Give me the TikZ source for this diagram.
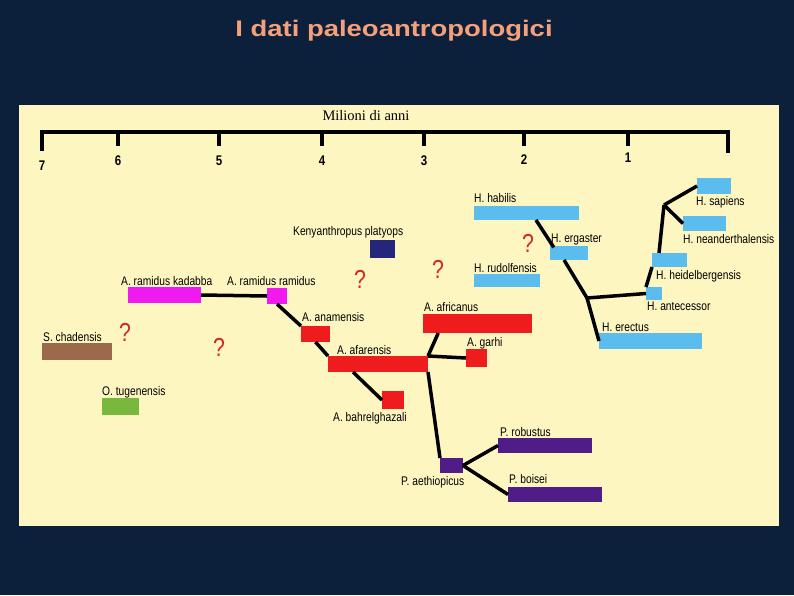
\documentclass[tikz,border=0pt]{standalone}
\usepackage{fontspec}
\setmainfont{Liberation Sans}
\newfontfamily\lblfont[FakeStretch=0.82]{Liberation Sans}
\newfontfamily\ttlfont[FakeStretch=1.22]{Liberation Sans}
\newfontfamily\axfont{Liberation Serif}
\usetikzlibrary{calc}

\definecolor{bgnavy}{HTML}{0C203C}
\definecolor{panel}{HTML}{FEF6C1}
\definecolor{salmon}{HTML}{F4A07A}
\definecolor{homo}{HTML}{5BBDEE}
\definecolor{austr}{HTML}{EE1C1C}
\definecolor{ardi}{HTML}{F019F0}
\definecolor{kenya}{HTML}{25257C}
\definecolor{paran}{HTML}{4F1C88}
\definecolor{sahel}{HTML}{9A6A4A}
\definecolor{orro}{HTML}{78B83C}
\definecolor{qred}{HTML}{D02828}

\begin{document}
\begin{tikzpicture}[x=1pt, y=-1pt, line cap=butt]
  \tikzstyle{bar} = [rectangle, anchor=north west, inner sep=0pt, outer sep=0pt]
  \tikzstyle{lbl} = [anchor=base west, inner sep=0pt, font=\lblfont\fontsize{12.5}{14}\selectfont]
  \tikzstyle{qm} = [inner sep=0pt, text=qred, font=\lblfont\fontsize{26}{28}\selectfont]
  \tikzstyle{axnum} = [inner sep=0pt, font=\lblfont\bfseries\fontsize{14}{16}\selectfont]
  \tikzstyle{line} = [draw, line width=3.5pt]
  \tikzstyle{axis} = [draw, line width=4pt]

  % background and panel
  \fill[bgnavy] (0,0) rectangle (794,595);
  \useasboundingbox (0,0) rectangle (794,595);
  \fill[panel] (19,105) rectangle (779,526);

  \node[anchor=base, inner sep=0pt, text=salmon, font=\ttlfont\bfseries\fontsize{22.5}{26}\selectfont] (ttl) at (394,36) {I dati paleoantropologici};
  \node[anchor=base, inner sep=0pt, font=\axfont\fontsize{14.5}{16}\selectfont] (unit) at (366,120) {Milioni di anni};

  % time axis
  \coordinate (t7) at (42,132);
  \coordinate (t0) at (728,132);
  \path[axis] ([xshift=-2pt]t7) -- ([xshift=2pt]t0);
  \path[axis] (t7) -- (42,151);
  \path[axis] (t0) -- (728,153);
  \foreach \x in {118,219,322,424,524,628}
    \path[axis] (\x,132) -- (\x,146);
  \node[axnum] (n7) at (42,166) {7};
  \node[axnum] (n6) at (118,161) {6};
  \node[axnum] (n5) at (219,161) {5};
  \node[axnum] (n4) at (322,161) {4};
  \node[axnum] (n3) at (424,161) {3};
  \node[axnum] (n2) at (524,160) {2};
  \node[axnum] (n1) at (628,158) {1};

  % species bars
  \node[bar, fill=homo, minimum width=34pt, minimum height=16pt] (sap) at (697,178) {};
  \node[bar, fill=homo, minimum width=43pt, minimum height=15pt] (nea) at (683,216) {};
  \node[bar, fill=homo, minimum width=35pt, minimum height=14pt] (hei) at (652,253) {};
  \node[bar, fill=homo, minimum width=16pt, minimum height=13pt] (ant) at (646,287) {};
  \node[bar, fill=homo, minimum width=103pt, minimum height=16pt] (ere) at (599,333) {};
  \node[bar, fill=homo, minimum width=38pt, minimum height=14pt] (erg) at (550,246) {};
  \node[bar, fill=homo, minimum width=105pt, minimum height=14pt] (hab) at (474,206) {};
  \node[bar, fill=homo, minimum width=66pt, minimum height=13pt] (rud) at (474,274) {};
  \node[bar, fill=kenya, minimum width=25pt, minimum height=18pt] (ken) at (370,240) {};
  \node[bar, fill=ardi, minimum width=73pt, minimum height=16pt] (kad) at (128,287) {};
  \node[bar, fill=ardi, minimum width=20pt, minimum height=16pt] (ram) at (267,288) {};
  \node[bar, fill=sahel, minimum width=70pt, minimum height=17pt] (cha) at (42,343) {};
  \node[bar, fill=orro, minimum width=37pt, minimum height=17pt] (tug) at (102,398) {};
  \node[bar, fill=austr, minimum width=29pt, minimum height=16pt] (ana) at (301,326) {};
  \node[bar, fill=austr, minimum width=100pt, minimum height=16pt] (afa) at (328,356) {};
  \node[bar, fill=austr, minimum width=109pt, minimum height=19pt] (afr) at (423,314) {};
  \node[bar, fill=austr, minimum width=21pt, minimum height=18pt] (gar) at (466,349) {};
  \node[bar, fill=austr, minimum width=22pt, minimum height=18pt] (bah) at (382,391) {};
  \node[bar, fill=paran, minimum width=23pt, minimum height=15pt] (aet) at (440,458) {};
  \node[bar, fill=paran, minimum width=94pt, minimum height=15pt] (rob) at (498,438) {};
  \node[bar, fill=paran, minimum width=94pt, minimum height=15pt] (boi) at (508,487) {};

  % names
  \node[lbl] (sapl) at (696,205) {H. sapiens};
  \node[lbl] (neal) at (683,243) {H. neanderthalensis};
  \node[lbl] (heil) at (656,279) {H. heidelbergensis};
  \node[lbl] (antl) at (647,310) {H. antecessor};
  \node[lbl] (erel) at (602,331) {H. erectus};
  \node[lbl] (ergl) at (551,242) {H. ergaster};
  \node[lbl] (habl) at (474,202) {H. habilis};
  \node[lbl] (rudl) at (474,272) {H. rudolfensis};
  \node[lbl] (kenl) at (293,235) {Kenyanthropus platyops};
  \node[lbl] (kadl) at (121,285) {A. ramidus kadabba};
  \node[lbl] (raml) at (227,285) {A. ramidus ramidus};
  \node[lbl] (chal) at (43,341) {S. chadensis};
  \node[lbl] (tugl) at (102,395) {O. tugenensis};
  \node[lbl] (anal) at (302,321) {A. anamensis};
  \node[lbl] (afal) at (337,354) {A. afarensis};
  \node[lbl] (afrl) at (424,311) {A. africanus};
  \node[lbl] (garl) at (467,346) {A. garhi};
  \node[lbl] (bahl) at (333,421) {A. bahrelghazali};
  \node[lbl] (aetl) at (401,485) {P. aethiopicus};
  \node[lbl] (robl) at (500,436) {P. robustus};
  \node[lbl] (boil) at (509,483) {P. boisei};

  % open questions
  \node[qm] (q1) at (360,279) {?};
  \node[qm] (q2) at (438,269) {?};
  \node[qm] (q3) at (528,243) {?};
  \node[qm] (q4) at (125,332) {?};
  \node[qm] (q5) at (219,347) {?};

  % lineage
  \coordinate (hbr) at (587,298);
  \coordinate (sbr) at (664,205);
  \path[line] (kad.east) -- (ram.west);
  \path[line] (ram.south) -- (ana.north west);
  \path[line] (ana.south) -- (afa.north west);
  \path[line] ($(afa.south west)!0.25!(afa.south east)$) -- (bah.west);
  \path[line] (afa.north east) -- ($(afr.south west)!0.14!(afr.south east)$);
  \path[line] (afa.north east) -- (gar.west);
  \path[line] (afa.south east) -- (aet.north west);
  \path[line] (aet.east) -- (rob.west);
  \path[line] (aet.east) -- (boi.west);
  \path[line] ($(hab.south west)!0.59!(hab.south east)$) -- ($(erg.north west)!0.1!(erg.south east)$);
  \path[line] ($(erg.south west)!0.37!(erg.south east)$) -- (hbr);
  \path[line] (hbr) -- (ere.west);
  \path[line] (hbr) -- (ant.west);
  \path[line] (ant.north west) -- (hei.south west);
  \path[line] ($(hei.north west)!0.2!(hei.north east)$) -- (sbr);
  \path[line] (sbr) -- (sap.west);
  \path[line] (sbr) -- (nea.west);
\end{tikzpicture}
\end{document}
